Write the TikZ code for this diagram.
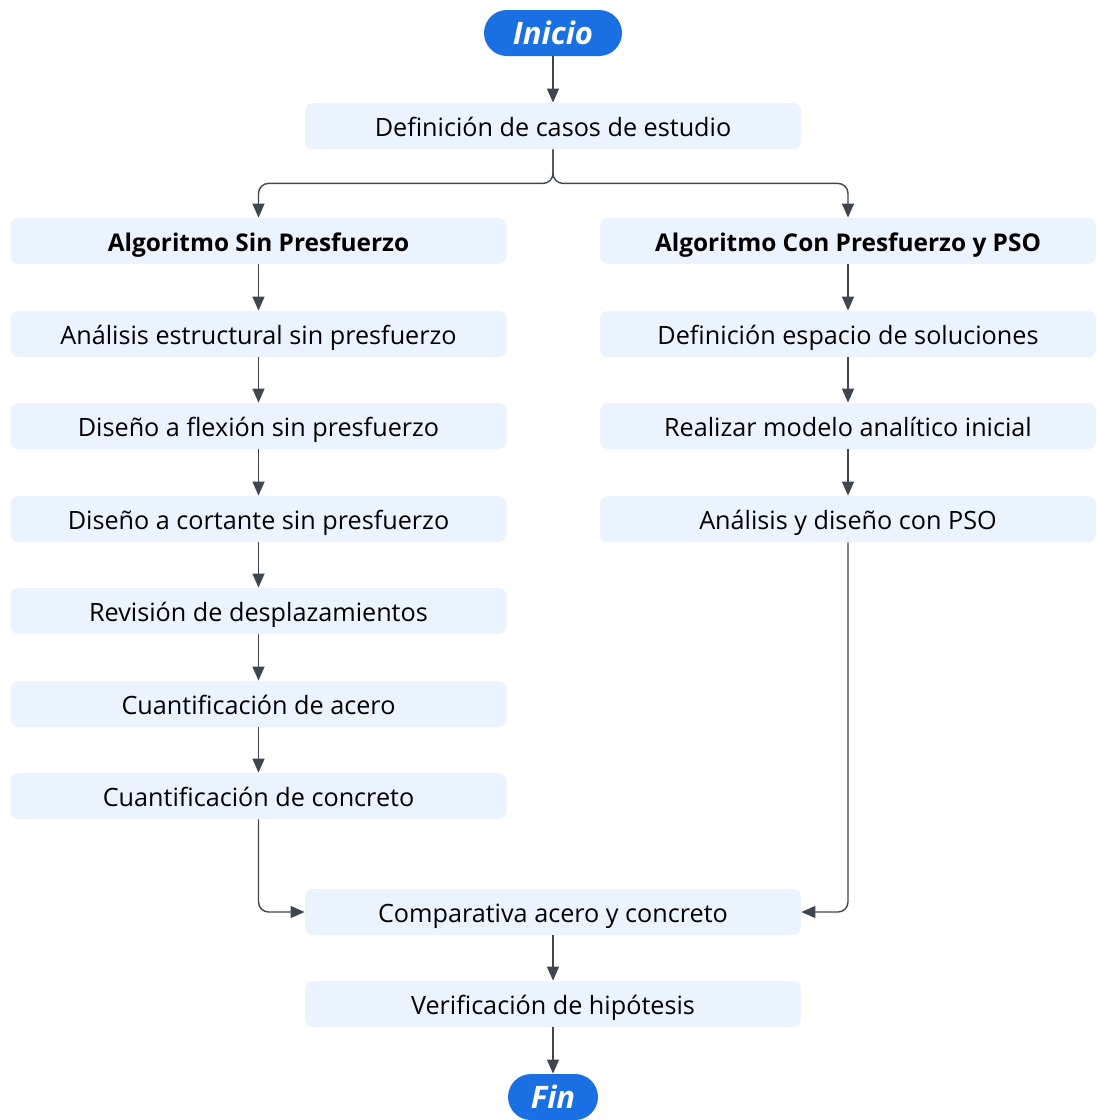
\documentclass[tikz,border=0pt]{standalone}
\usepackage{fontspec}
\setmainfont{Open Sans}
\usetikzlibrary{arrows.meta,positioning}
\definecolor{boxfill}{HTML}{EBF3FE}
\definecolor{termblue}{HTML}{1A6FE3}
\definecolor{linegray}{HTML}{40464E}
\tikzset{%
	terminal/.style = {rectangle, rounded corners=11.5pt, fill=termblue, text=white, minimum height=23pt, text centered, font=\fontsize{15.5}{18}\selectfont\bfseries\itshape},
	process/.style  = {rectangle, rounded corners=4pt, fill=boxfill, minimum width=248pt, minimum height=23pt, text height=11pt, text depth=0.5pt, text centered, font=\fontsize{12.6}{15}\selectfont},
	header/.style   = {process, font=\fontsize{12.2}{15}\selectfont\bfseries},
	arrow/.style    = {draw=linegray, line width=0.7pt, -{Triangle[width=6pt,length=7pt]}, rounded corners=5pt},
}

\begin{document}
\begin{tikzpicture}[x=0.5pt,y=-0.5pt]
	
	\useasboundingbox (0,0) rectangle (1097,1120);
	
	\node[terminal, minimum width=69pt] (ini) at (553,33) {Inicio};
	\node[process] (def) at (553,126) {Definición de casos de estudio};
	
	% rama sin presfuerzo
	\node[header]  (sp0) at (258.5,241) {Algoritmo Sin Presfuerzo};
	\node[process] (sp1) at (258.5,334) {Análisis estructural sin presfuerzo};
	\node[process] (sp2) at (258.5,426) {Diseño a flexión sin presfuerzo};
	\node[process] (sp3) at (258.5,519) {Diseño a cortante sin presfuerzo};
	\node[process] (sp4) at (258.5,611) {Revisión de desplazamientos};
	\node[process] (sp5) at (258.5,704) {Cuantificación de acero};
	\node[process] (sp6) at (258.5,796) {Cuantificación de concreto};
	
	% rama con presfuerzo
	\node[header]  (cp0) at (848,241) {Algoritmo Con Presfuerzo y PSO};
	\node[process] (cp1) at (848,334) {Definición espacio de soluciones};
	\node[process] (cp2) at (848,426) {Realizar modelo analítico inicial};
	\node[process] (cp3) at (848,519) {Análisis y diseño con PSO};
	
	\node[process] (cmp) at (553,912) {Comparativa acero y concreto};
	\node[process] (ver) at (553,1004) {Verificación de hipótesis};
	\node[terminal, minimum width=45pt] (fin) at (553,1097) {Fin};
	
	\draw[arrow] (ini) -- (def);
	\draw[arrow] (def.south) -- ++(0,34) -| (sp0.north);
	\draw[arrow] (def.south) -- ++(0,34) -| (cp0.north);
	
	\foreach \a/\b in {sp0/sp1,sp1/sp2,sp2/sp3,sp3/sp4,sp4/sp5,sp5/sp6,cp0/cp1,cp1/cp2,cp2/cp3}
		\draw[arrow] (\a) -- (\b);
	
	\draw[arrow] (sp6.south) |- (cmp.west);
	\draw[arrow] (cp3.south) |- (cmp.east);
	\draw[arrow] (cmp) -- (ver);
	\draw[arrow] (ver) -- (fin);
	
\end{tikzpicture}
\end{document}
